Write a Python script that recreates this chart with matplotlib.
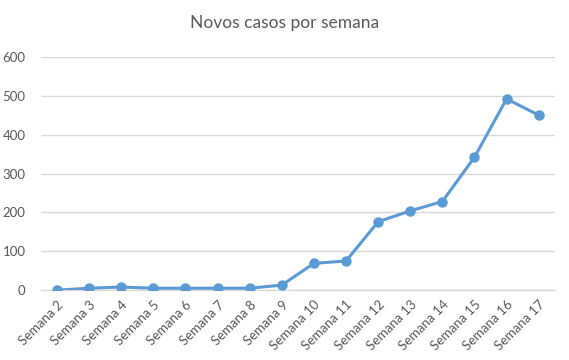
import matplotlib
matplotlib.use("Agg")
import matplotlib.pyplot as plt

plt.rcParams['font.family'] = ['Lato', 'DejaVu Sans']

semanas = [f"Semana {i}" for i in range(2, 18)]
casos = [0, 5, 8, 5, 5, 5, 5, 13, 69, 75, 176, 204, 228, 342, 492, 450]
yticks = [0, 100, 200, 300, 400, 500, 600]

BLUE = "#5B9BD5"
TXT = "#595959"
GRID = "#D9D9D9"

fig = plt.figure(figsize=(5.69, 3.6), dpi=100)
ax = fig.add_axes([0.072, 0.194, 0.903, 0.648])

x = list(range(len(semanas)))
ax.plot(x, casos, color=BLUE, linewidth=2.2, marker="o", markersize=6.5,
        markeredgecolor=BLUE, markerfacecolor=BLUE, zorder=3)

ax.set_xlim(-0.5, len(semanas) - 0.5)
ax.set_ylim(0, 600)
ax.set_yticks(yticks)
ax.set_xticks(x)
ax.set_xticklabels(semanas, rotation=45, ha="right", rotation_mode="anchor",
                   fontsize=9.5, color=TXT)
ax.tick_params(axis="y", labelsize=9.5, labelcolor=TXT, length=0, pad=11)
ax.tick_params(axis="x", length=0, pad=6)

ax.yaxis.grid(True, color=GRID, linewidth=1)
ax.set_axisbelow(True)
for s in ["top", "right", "left"]:
    ax.spines[s].set_visible(False)
ax.spines["bottom"].set_color(GRID)
ax.spines["bottom"].set_linewidth(1)

fig.text(0.5, 0.935, "Novos casos por semana", ha="center", va="center",
         fontsize=12.5, color=TXT)

fig.savefig("out.png", dpi=100)
